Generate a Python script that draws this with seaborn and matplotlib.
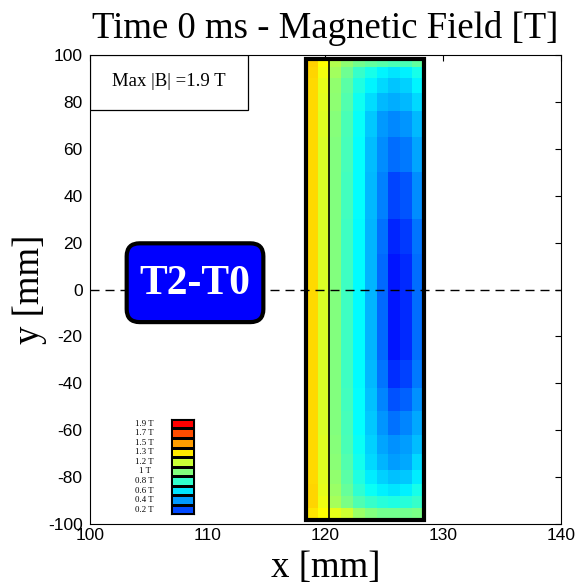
import numpy as np
import pandas as pd
import matplotlib
matplotlib.use("Agg")
import matplotlib.pyplot as plt
from matplotlib.colors import LinearSegmentedColormap, Normalize
from matplotlib.patches import Rectangle, FancyBboxPatch
import seaborn as sns

# ---------------- data ----------------
title_text = "Time 0 ms - Magnetic Field [T]"
x_label = "x [mm]"
y_label = "y [mm]"
x_ticks = [100, 110, 120, 130, 140]
y_ticks = [-100, -80, -60, -40, -20, 0, 20, 40, 60, 80, 100]
max_text = "Max |B| =1.9 T"
tag_text = "T2-T0"

# discrete legend (top -> bottom)
legend_labels = ["1.9 T", "1.7 T", "1.5 T", "1.3 T", "1.2 T", "1 T",
                 "0.8 T", "0.6 T", "0.4 T", "0.2 T"]
legend_levels = [1.9, 1.71, 1.52, 1.33, 1.14, 0.96, 0.77, 0.58, 0.39, 0.2]

# magnet cross-section grid (mm)
field_x_edges = [118.35, 119.35, 120.35, 121.35, 122.35, 123.35,
                 124.35, 125.35, 126.35, 127.35, 128.35]
field_y_edges = [98.4, 95, 90, 84, 76, 65, 50, 30, 15, -30, -42, -52,
                 -62, -70, -77, -83, -88, -93, -98.4]
# |B| [T] per band (rows top -> bottom, columns left -> right)
field_B = [
    [1.39, 1.27, 1.08, 0.99, 0.93, 0.89, 0.86, 0.83, 0.83, 0.89],
    [1.38, 1.24, 1.04, 0.92, 0.78, 0.70, 0.62, 0.58, 0.61, 0.70],
    [1.37, 1.21, 1.00, 0.87, 0.72, 0.62, 0.55, 0.50, 0.53, 0.62],
    [1.37, 1.20, 0.99, 0.85, 0.68, 0.56, 0.47, 0.44, 0.47, 0.55],
    [1.37, 1.19, 0.97, 0.83, 0.66, 0.51, 0.39, 0.35, 0.38, 0.47],
    [1.37, 1.18, 0.96, 0.82, 0.65, 0.48, 0.36, 0.29, 0.32, 0.42],
    [1.37, 1.18, 0.96, 0.81, 0.645, 0.47, 0.33, 0.19, 0.23, 0.36],
    [1.37, 1.18, 0.96, 0.80, 0.64, 0.46, 0.30, 0.11, 0.16, 0.31],
    [1.37, 1.18, 0.96, 0.80, 0.64, 0.46, 0.28, 0.065, 0.12, 0.29],
    [1.37, 1.18, 0.96, 0.80, 0.64, 0.47, 0.31, 0.13, 0.18, 0.32],
    [1.37, 1.18, 0.96, 0.81, 0.645, 0.49, 0.34, 0.22, 0.26, 0.37],
    [1.37, 1.18, 0.96, 0.82, 0.65, 0.51, 0.38, 0.30, 0.34, 0.43],
    [1.37, 1.19, 0.97, 0.83, 0.67, 0.53, 0.42, 0.37, 0.40, 0.48],
    [1.37, 1.19, 0.98, 0.85, 0.69, 0.55, 0.46, 0.40, 0.43, 0.55],
    [1.37, 1.20, 1.00, 0.87, 0.72, 0.60, 0.53, 0.49, 0.51, 0.60],
    [1.38, 1.21, 1.02, 0.90, 0.76, 0.67, 0.61, 0.58, 0.61, 0.70],
    [1.38, 1.23, 1.05, 0.95, 0.84, 0.78, 0.74, 0.72, 0.74, 0.78],
    [1.34, 1.27, 1.21, 1.15, 1.02, 0.96, 0.93, 0.93, 0.93, 0.95],
]
inner_line_x = 120.35

# ---------------- style ----------------
sns.set_theme(style="white")
plt.rcParams["font.family"] = ["Liberation Sans", "DejaVu Sans"]
plt.rcParams["axes.unicode_minus"] = False
plt.rcParams["text.color"] = "black"
plt.rcParams["axes.labelcolor"] = "black"
plt.rcParams["xtick.color"] = "black"
plt.rcParams["ytick.color"] = "black"
SERIF = ["Liberation Serif", "DejaVu Serif"]

jet = LinearSegmentedColormap.from_list(
    "matlab_jet",
    [(0.0, (0, 0, 0.5)), (0.125, (0, 0, 1)), (0.375, (0, 1, 1)),
     (0.625, (1, 1, 0)), (0.875, (1, 0, 0)), (1.0, (0.5, 0, 0))])
norm = Normalize(vmin=-0.3, vmax=2.22)

fig = plt.figure(figsize=(5.76, 5.86), dpi=100)
fig.patch.set_facecolor("white")
ax = fig.add_axes([0.1557, 0.1058, 0.8182, 0.8003])
ax.set_facecolor("white")

# field
ax.pcolormesh(field_x_edges, field_y_edges, np.array(field_B),
              cmap=jet, norm=norm, shading="flat", zorder=1)

# y = 0 dashed line
ax.axhline(0, color="black", lw=1.0, dashes=(6.5, 4.3), zorder=2)

# inner vertical line and magnet outline
ax.plot([inner_line_x, inner_line_x], [field_y_edges[-1], field_y_edges[0]],
        color="black", lw=1.2, zorder=3)
ax.add_patch(Rectangle((field_x_edges[0], field_y_edges[-1]),
                       field_x_edges[-1] - field_x_edges[0],
                       field_y_edges[0] - field_y_edges[-1],
                       fill=False, ec="black", lw=3.0, zorder=4,
                       joinstyle="miter"))

# Max |B| box
ax.add_patch(Rectangle((100, 76.5), 13.4, 23.5, fc="white", ec="black",
                       lw=0.9, zorder=5))
ax.text(106.75, 88.7, max_text, ha="center", va="center", fontsize=13.5,
        family=SERIF, color="black", zorder=6)

# T2-T0 tag
ax.add_patch(FancyBboxPatch((103.14, -13.9), 11.6, 33.6,
                            boxstyle="round,pad=0,rounding_size=1.1",
                            mutation_aspect=5.02, fc=(0, 0, 1), ec="black",
                            lw=3.0, zorder=5))
ax.text(108.94, 2.4, tag_text, ha="center", va="center", fontsize=30,
        fontweight="bold", color="white", family=SERIF, zorder=6)

# discrete legend drawn with seaborn heatmap
leg_x, leg_top, leg_w, leg_h = 106.9, -55.2, 1.98, 40.7
lax = ax.inset_axes([leg_x, leg_top - leg_h, leg_w, leg_h],
                    transform=ax.transData, zorder=5)
sns.heatmap(pd.DataFrame({"B": legend_levels}), ax=lax, cmap=jet,
            vmin=norm.vmin, vmax=norm.vmax, cbar=False, linewidths=0.8,
            linecolor="black", xticklabels=False, yticklabels=False)
for s in lax.spines.values():
    s.set_visible(True)
    s.set_color("black")
    s.set_linewidth(0.8)
box_h = leg_h / len(legend_labels)
for i, lab in enumerate(legend_labels):
    ax.text(104.65, leg_top - (i + 0.5) * box_h, lab, ha="center",
            va="center", fontsize=6.3, family=SERIF, color="black",
            zorder=6)

# axes
ax.set_xlim(100, 140)
ax.set_ylim(-100, 100)
ax.set_xticks(x_ticks)
ax.set_yticks(y_ticks)
ax.tick_params(direction="in", length=4, width=0.8, top=True, right=True,
               labelsize=12.5, colors="black")
ax.tick_params(axis="x", pad=3)
ax.tick_params(axis="y", pad=5)
for s in ax.spines.values():
    s.set_visible(True)
    s.set_color("black")
    s.set_linewidth(0.8)

ax.set_title(title_text, fontsize=26.5, family=SERIF, pad=12, color="black")
ax.set_xlabel(x_label, fontsize=26.5, family=SERIF, va="center",
              color="black")
ax.set_ylabel(y_label, fontsize=26.5, family=SERIF, va="center",
              color="black")
ax.xaxis.set_label_coords(0.5, -0.094)
ax.yaxis.set_label_coords(-0.128, 0.5)

fig.savefig("out.png", dpi=100)
